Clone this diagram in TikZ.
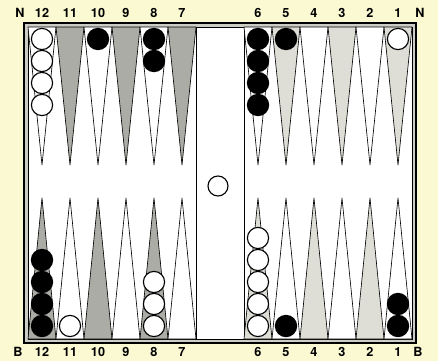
\documentclass[tikz,border=0pt]{standalone}
\usepackage{fontspec}
\setmainfont{TeX Gyre Heros}
\usepackage{tikz}
\usetikzlibrary{calc,positioning}
\definecolor{paper}{RGB}{250,249,210}
\definecolor{rim}{RGB}{205,205,198}
\definecolor{ptdark}{RGB}{172,172,166}
\definecolor{ptpale}{RGB}{222,222,215}

\begin{document}
\begin{tikzpicture}[
		wht/.style={circle,draw=black,line width=0.8pt,fill=white,minimum size=5.3mm,inner sep=0pt},
		blk/.style={circle,fill=black,minimum size=5.6mm,inner sep=0pt},
		num/.style={font=\fontsize{9}{11}\selectfont\bfseries,inner sep=0pt},
		darkpt/.style={fill=ptdark,draw=black,line width=0.45pt,line join=round},
		palept/.style={fill=ptpale,draw=black,line width=0.45pt,line join=round},
		whitept/.style={fill=white,draw=black,line width=0.45pt,line join=round}]
								 % \draw[color=gray,step=1mm, help lines,opacity=0.3] (0pt,0pt) grid (109.5mm,90.25mm); %help grids
								 \path[fill=paper] (0mm,0mm) rectangle (109.5mm,90.25mm);
								 % frame and bar
								 \filldraw[fill=rim,line width=0.9pt] (6mm,4.5mm) rectangle (104mm,84.5mm);
								 \filldraw[fill=white,line width=0.5pt] (7mm,5.5mm) rectangle (103mm,83.5mm);
								 \draw[line width=0.5pt] (49mm,5.5mm)--(49mm,83.5mm);
								 \draw[line width=0.5pt] (61mm,5.5mm)--(61mm,83.5mm);
								 % upper points
								 \filldraw[whitept] (7mm,83.5mm)--(10.5mm,49mm)--(14mm,83.5mm)--cycle;
								 \filldraw[darkpt] (14mm,83.5mm)--(17.5mm,49mm)--(21mm,83.5mm)--cycle;
								 \filldraw[whitept] (21mm,83.5mm)--(24.5mm,49mm)--(28mm,83.5mm)--cycle;
								 \filldraw[darkpt] (28mm,83.5mm)--(31.5mm,49mm)--(35mm,83.5mm)--cycle;
								 \filldraw[whitept] (35mm,83.5mm)--(38.5mm,49mm)--(42mm,83.5mm)--cycle;
								 \filldraw[darkpt] (42mm,83.5mm)--(45.5mm,49mm)--(49mm,83.5mm)--cycle;
								 \filldraw[whitept] (61mm,83.5mm)--(64.5mm,49mm)--(68mm,83.5mm)--cycle;
								 \filldraw[palept] (68mm,83.5mm)--(71.5mm,49mm)--(75mm,83.5mm)--cycle;
								 \filldraw[whitept] (75mm,83.5mm)--(78.5mm,49mm)--(82mm,83.5mm)--cycle;
								 \filldraw[palept] (82mm,83.5mm)--(85.5mm,49mm)--(89mm,83.5mm)--cycle;
								 \filldraw[whitept] (89mm,83.5mm)--(92.5mm,49mm)--(96mm,83.5mm)--cycle;
								 \filldraw[palept] (96mm,83.5mm)--(99.5mm,49mm)--(103mm,83.5mm)--cycle;
								 % lower points
								 \filldraw[darkpt] (7mm,5.5mm)--(10.5mm,40.75mm)--(14mm,5.5mm)--cycle;
								 \filldraw[whitept] (14mm,5.5mm)--(17.5mm,40.75mm)--(21mm,5.5mm)--cycle;
								 \filldraw[darkpt] (21mm,5.5mm)--(24.5mm,40.75mm)--(28mm,5.5mm)--cycle;
								 \filldraw[whitept] (28mm,5.5mm)--(31.5mm,40.75mm)--(35mm,5.5mm)--cycle;
								 \filldraw[darkpt] (35mm,5.5mm)--(38.5mm,40.75mm)--(42mm,5.5mm)--cycle;
								 \filldraw[whitept] (42mm,5.5mm)--(45.5mm,40.75mm)--(49mm,5.5mm)--cycle;
								 \filldraw[palept] (61mm,5.5mm)--(64.5mm,40.75mm)--(68mm,5.5mm)--cycle;
								 \filldraw[whitept] (68mm,5.5mm)--(71.5mm,40.75mm)--(75mm,5.5mm)--cycle;
								 \filldraw[palept] (75mm,5.5mm)--(78.5mm,40.75mm)--(82mm,5.5mm)--cycle;
								 \filldraw[whitept] (82mm,5.5mm)--(85.5mm,40.75mm)--(89mm,5.5mm)--cycle;
								 \filldraw[palept] (89mm,5.5mm)--(92.5mm,40.75mm)--(96mm,5.5mm)--cycle;
								 \filldraw[whitept] (96mm,5.5mm)--(99.5mm,40.75mm)--(103mm,5.5mm)--cycle;
								 % checkers, upper half
								 \node[wht] (w12a) at (10.5mm,80.5mm) {};
								 \node[wht] (w12b) at (10.5mm,75mm) {};
								 \node[wht] (w12c) at (10.5mm,69.5mm) {};
								 \node[wht] (w12d) at (10.5mm,64mm) {};
								 \node[blk] (b10a) at (24.5mm,80.5mm) {};
								 \node[blk] (b8a) at (38.5mm,80.5mm) {};
								 \node[blk] (b8b) at (38.5mm,75mm) {};
								 \node[blk] (b6a) at (64.5mm,80.5mm) {};
								 \node[blk] (b6b) at (64.5mm,75mm) {};
								 \node[blk] (b6c) at (64.5mm,69.5mm) {};
								 \node[blk] (b6d) at (64.5mm,64mm) {};
								 \node[blk] (b5a) at (71.5mm,80.5mm) {};
								 \node[wht] (w1a) at (99.5mm,80.5mm) {};
								 % checkers, lower half
								 \node[blk] (b12a) at (10.5mm,8.75mm) {};
								 \node[blk] (b12b) at (10.5mm,14.25mm) {};
								 \node[blk] (b12c) at (10.5mm,19.75mm) {};
								 \node[blk] (b12d) at (10.5mm,25.25mm) {};
								 \node[wht] (w11a) at (17.5mm,8.75mm) {};
								 \node[wht] (w8a) at (38.5mm,8.75mm) {};
								 \node[wht] (w8b) at (38.5mm,14.25mm) {};
								 \node[wht] (w8c) at (38.5mm,19.75mm) {};
								 \node[wht] (w6a) at (64.5mm,8.75mm) {};
								 \node[wht] (w6b) at (64.5mm,14.25mm) {};
								 \node[wht] (w6c) at (64.5mm,19.75mm) {};
								 \node[wht] (w6d) at (64.5mm,25.25mm) {};
								 \node[wht] (w6e) at (64.5mm,30.75mm) {};
								 \node[blk] (b5l) at (71.5mm,8.75mm) {};
								 \node[blk] (b1a) at (99.5mm,8.75mm) {};
								 \node[blk] (b1b) at (99.5mm,14.25mm) {};
								 % checker on the bar
								 \node[wht,minimum size=5mm] (bar) at (54.5mm,43.75mm) {};
								 % labels
								 \node[num] (nl) at (5mm,87mm) {N};
								 \node[num] (nr) at (105mm,87mm) {N};
								 \node[num] (bl) at (4.5mm,2.2mm) {B};
								 \node[num] (br) at (104.5mm,2.2mm) {B};
								 \node[num] (t12) at (10.5mm,87mm) {12};
								 \node[num] (t11) at (17.5mm,87mm) {11};
								 \node[num] (t10) at (24.5mm,87mm) {10};
								 \node[num] (t9) at (31.5mm,87mm) {9};
								 \node[num] (t8) at (38.5mm,87mm) {8};
								 \node[num] (t7) at (45.5mm,87mm) {7};
								 \node[num] (t6) at (64.5mm,87mm) {6};
								 \node[num] (t5) at (71.5mm,87mm) {5};
								 \node[num] (t4) at (78.5mm,87mm) {4};
								 \node[num] (t3) at (85.5mm,87mm) {3};
								 \node[num] (t2) at (92.5mm,87mm) {2};
								 \node[num] (t1) at (99.5mm,87mm) {1};
								 \node[num] (u12) at (10.5mm,2.2mm) {12};
								 \node[num] (u11) at (17.5mm,2.2mm) {11};
								 \node[num] (u10) at (24.5mm,2.2mm) {10};
								 \node[num] (u9) at (31.5mm,2.2mm) {9};
								 \node[num] (u8) at (38.5mm,2.2mm) {8};
								 \node[num] (u7) at (45.5mm,2.2mm) {7};
								 \node[num] (u6) at (64.5mm,2.2mm) {6};
								 \node[num] (u5) at (71.5mm,2.2mm) {5};
								 \node[num] (u4) at (78.5mm,2.2mm) {4};
								 \node[num] (u3) at (85.5mm,2.2mm) {3};
								 \node[num] (u2) at (92.5mm,2.2mm) {2};
								 \node[num] (u1) at (99.5mm,2.2mm) {1};

				\end{tikzpicture}
\end{document}
